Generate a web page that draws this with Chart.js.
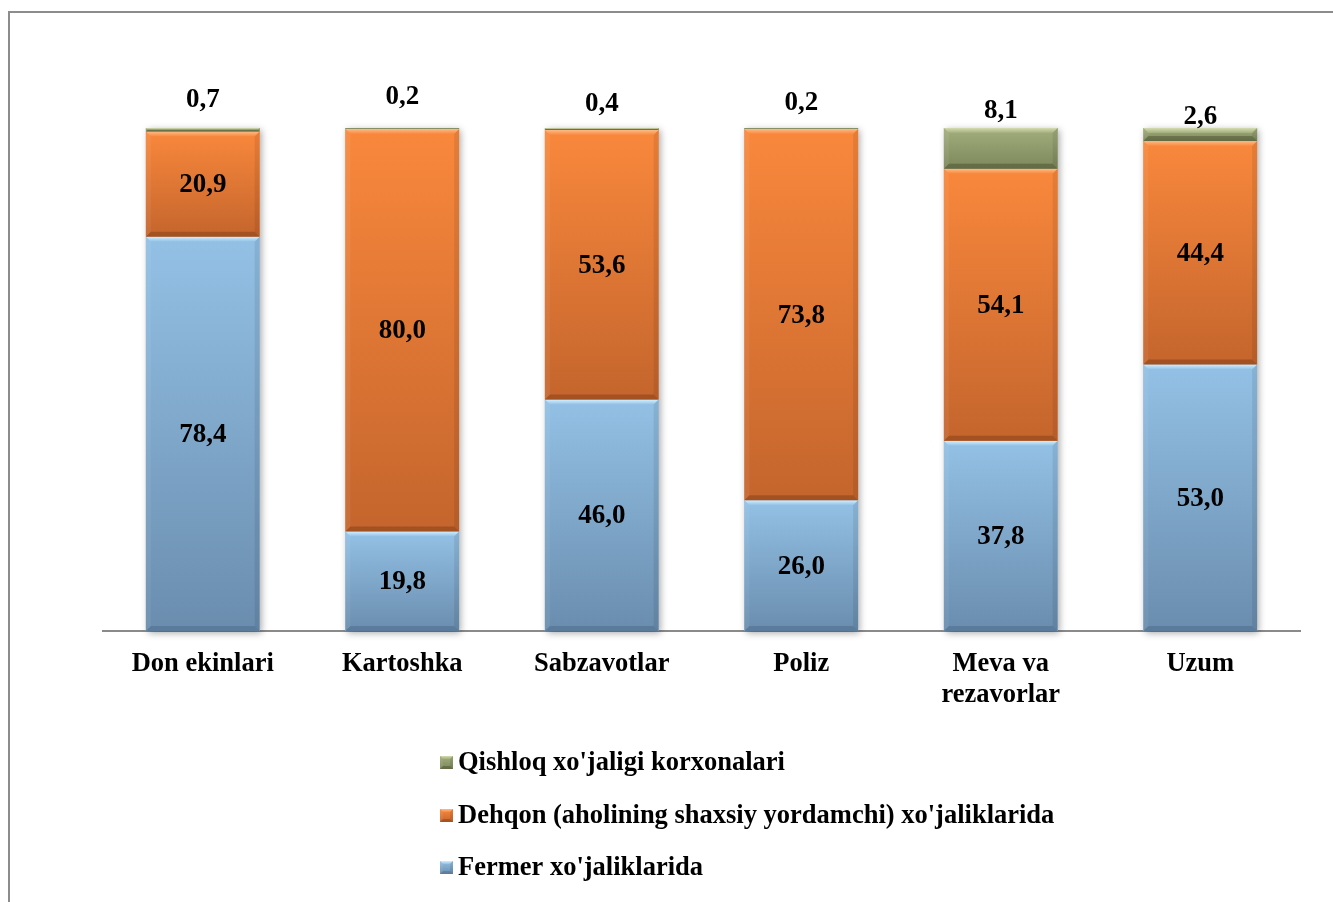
<!DOCTYPE html>
<html><head><meta charset="utf-8">
<script src="https://cdn.jsdelivr.net/npm/chart.js@4.4.0/dist/chart.umd.min.js"></script>
<style>html,body{margin:0;padding:0;background:#fff;overflow:hidden}#wrap{width:1333px;height:902px;position:relative}</style>
</head><body><div id="wrap"><canvas id="c" width="1333" height="902"></canvas></div>
<script>
// ---- data ----
const categories = [['Don ekinlari'], ['Kartoshka'], ['Sabzavotlar'], ['Poliz'], ['Meva va', 'rezavorlar'], ['Uzum']];
const fermer  = [78.4, 19.8, 46.0, 26.0, 37.8, 53.0];
const dehqon  = [20.9, 80.0, 53.6, 73.8, 54.1, 44.4];
const qishloq = [0.7, 0.2, 0.4, 0.2, 8.1, 2.6];
const seriesNames = ["Fermer xo'jaliklarida", "Dehqon (aholining shaxsiy yordamchi) xo'jaliklarida", "Qishloq xo'jaligi korxonalari"];

// ---- styles ----
const FONT = "'Liberation Serif','Times New Roman',serif";
const palettes = [
  {mid:'#7fa9cf', top:'#93c1e5', bot:'#6a8dae', hi:'#d2efff', dark:'rgba(40,60,90,0.22)'},
  {mid:'#e8773a', top:'#f9883c', bot:'#c4652d', hi:'#fdbb88', dark:'rgba(90,35,5,0.30)'},
  {mid:'#8f9b6c', top:'#a3ae7e', bot:'#7d885b', hi:'#d3dbb0', dark:'rgba(50,55,30,0.35)'}
];
const topLabelOffsets = [28, 31, 24, 25, 17, 11];

function fmt(v){ return v.toFixed(1).replace('.', ','); }

function drawBevel(ctx, x0, x1, y0, y1, p, bmax){
  const h = y1 - y0; if (h <= 0) return;
  const g = ctx.createLinearGradient(0, y0, 0, y1);
  g.addColorStop(0, p.top); g.addColorStop(1, p.bot);
  ctx.fillStyle = g; ctx.fillRect(x0, y0, x1 - x0, h);
  const b = Math.min(bmax || 5, h / 2);
  const gt = ctx.createLinearGradient(0, y0, 0, y0 + b);
  gt.addColorStop(0, p.hi); gt.addColorStop(1, p.top);
  ctx.fillStyle = gt;
  ctx.beginPath(); ctx.moveTo(x0, y0); ctx.lineTo(x1, y0); ctx.lineTo(x1 - b, y0 + b); ctx.lineTo(x0 + b, y0 + b); ctx.closePath(); ctx.fill();
  ctx.fillStyle = p.dark;
  ctx.beginPath(); ctx.moveTo(x0, y1); ctx.lineTo(x1, y1); ctx.lineTo(x1 - b, y1 - b); ctx.lineTo(x0 + b, y1 - b); ctx.closePath(); ctx.fill();
  ctx.fillStyle = 'rgba(255,255,255,0.06)';
  ctx.beginPath(); ctx.moveTo(x0, y0); ctx.lineTo(x0 + b, y0 + b); ctx.lineTo(x0 + b, y1 - b); ctx.lineTo(x0, y1); ctx.closePath(); ctx.fill();
  ctx.fillStyle = 'rgba(0,0,0,0.08)';
  ctx.beginPath(); ctx.moveTo(x1, y0); ctx.lineTo(x1 - b, y0 + b); ctx.lineTo(x1 - b, y1 - b); ctx.lineTo(x1, y1); ctx.closePath(); ctx.fill();
}

const framePlugin = {
  id: 'frame',
  beforeDraw(chart){
    const ctx = chart.ctx; ctx.save();
    ctx.strokeStyle = '#8c8c8c'; ctx.lineWidth = 2;
    ctx.strokeRect(9, 12, 1400, 1000);
    ctx.restore();
  }
};

const bevelPlugin = {
  id: 'bevel',
  beforeDatasetsDraw(chart){
    const ctx = chart.ctx; ctx.save();
    const first = chart.getDatasetMeta(0).data;
    const last = chart.getDatasetMeta(chart.data.datasets.length - 1).data;
    first.forEach((el, i) => {
      const w = el.width, top = last[i].y, base = el.base;
      ctx.shadowColor = 'rgba(0,0,0,0.35)'; ctx.shadowBlur = 7; ctx.shadowOffsetX = 2; ctx.shadowOffsetY = 2;
      ctx.fillStyle = '#fff';
      ctx.fillRect(el.x - w / 2, top, w, base - top);
    });
    ctx.restore();
  },
  afterDatasetsDraw(chart){
    const ctx = chart.ctx; ctx.save();
    chart.data.datasets.forEach((ds, di) => {
      chart.getDatasetMeta(di).data.forEach(el => {
        drawBevel(ctx, el.x - el.width / 2, el.x + el.width / 2, el.y, el.base, palettes[di], 5);
      });
    });
    ctx.fillStyle = '#000'; ctx.font = 'bold 27px ' + FONT;
    ctx.textAlign = 'center'; ctx.textBaseline = 'middle';
    chart.data.datasets.forEach((ds, di) => {
      chart.getDatasetMeta(di).data.forEach((el, i) => {
        const v = ds.data[i];
        if (di < 2) ctx.fillText(fmt(v), el.x, (el.y + el.base) / 2 + 1);
        else ctx.fillText(fmt(v), el.x, el.y - topLabelOffsets[i]);
      });
    });
    ctx.restore();
  }
};

const legendPlugin = {
  id: 'vlegend',
  afterDraw(chart){
    const ctx = chart.ctx; ctx.save();
    const order = [2, 1, 0];
    const ys = [762, 815, 867];
    ctx.font = 'bold 26.5px ' + FONT; ctx.textBaseline = 'middle'; ctx.textAlign = 'left';
    order.forEach((di, k) => {
      const y = ys[k];
      drawBevel(ctx, 440, 453, y - 6, y + 7, palettes[di], 3);
      ctx.fillStyle = '#000';
      ctx.fillText(chart.data.datasets[di].label, 458, y + 1);
    });
    ctx.restore();
  }
};

new Chart(document.getElementById('c'), {
  type: 'bar',
  data: {
    labels: categories,
    datasets: [
      {label: seriesNames[0], data: fermer,  backgroundColor: palettes[0].mid},
      {label: seriesNames[1], data: dehqon,  backgroundColor: palettes[1].mid},
      {label: seriesNames[2], data: qishloq, backgroundColor: palettes[2].mid}
    ]
  },
  options: {
    responsive: false, animation: false, devicePixelRatio: 1,
    categoryPercentage: 1, barPercentage: 0.57,
    layout: {padding: {left: 103, right: 33, top: 128, bottom: 171}},
    plugins: {legend: {display: false}, tooltip: {enabled: false}},
    scales: {
      x: {
        stacked: true,
        grid: {display: false, drawTicks: false},
        border: {display: true, color: '#8a8a8a', width: 2},
        ticks: {color: '#000', font: {family: FONT, size: 26.5, weight: 'bold', lineHeight: 1.17}, padding: 18, maxRotation: 0, autoSkip: false},
        afterFit(scale){ scale.height = 100; }
      },
      y: {stacked: true, display: false, min: 0, max: 100}
    }
  },
  plugins: [framePlugin, bevelPlugin, legendPlugin]
});
</script>
</body></html>
